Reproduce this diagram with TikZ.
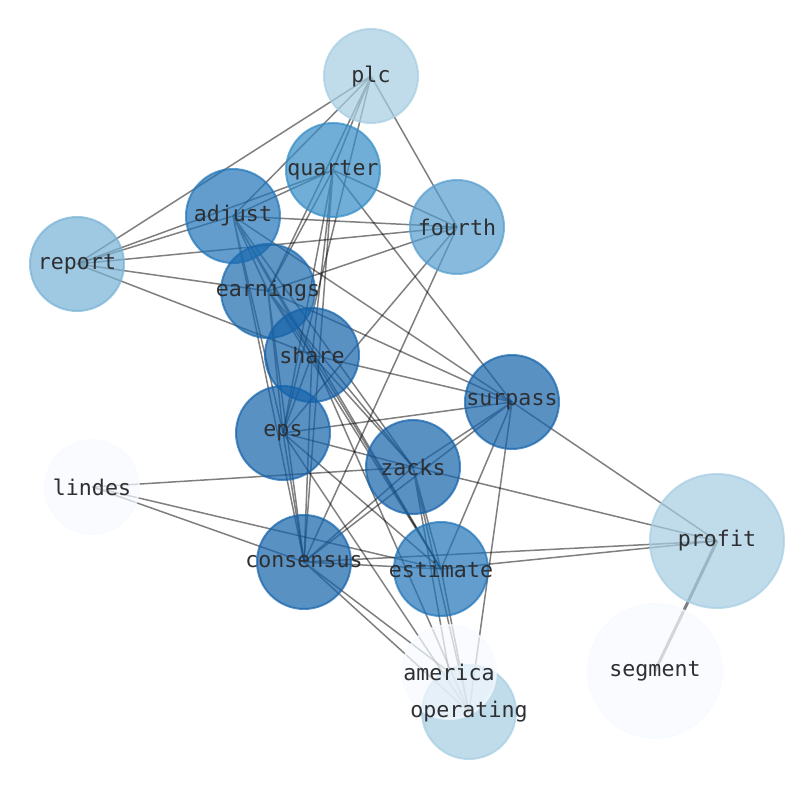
\documentclass[tikz,border=0pt]{standalone}
\usepackage{fontspec}
\usepackage{xcolor}
\usepackage{tikz}
\usetikzlibrary{positioning}
\newfontfamily\graphmono{DejaVu Sans Mono}

\definecolor{blues1}{RGB}{246,250,255}
\definecolor{blues3}{RGB}{165,205,226}
\definecolor{blues4}{RGB}{118,178,213}
\definecolor{blues5}{RGB}{84,157,205}
\definecolor{blues6}{RGB}{52,140,198}
\definecolor{blues7}{RGB}{31,116,184}
\definecolor{blues8}{RGB}{25,105,174}
\definecolor{blues9}{RGB}{20,98,170}
\definecolor{labelgray}{RGB}{45,47,50}

\pgfdeclarelayer{edgelayer}
\pgfsetlayers{edgelayer,main}

\tikzset{
    vtx/.style={circle, minimum size=47pt, inner sep=0pt, fill=#1, fill opacity=0.7,
        draw=#1, draw opacity=0.7, line width=1pt},
    bigvtx/.style={vtx=#1, minimum size=67pt},
    edge/.style={black, opacity=0.5, line width=0.75pt},
    wordlbl/.style={font=\graphmono\fontsize{10.8}{13}\selectfont, text=labelgray, inner sep=0pt}
}

\begin{document}
\begin{tikzpicture}[x=0.5pt, y=-0.5pt]
    \useasboundingbox (0,0) rectangle (794,790);

    % Knopen
    \node[vtx=blues3] (plc) at (371,76) {};
    \node[vtx=blues6] (quarter) at (333,170) {};
    \node[vtx=blues5] (fourth) at (457,227) {};
    \node[vtx=blues7] (adjust) at (233,216) {};
    \node[vtx=blues4] (report) at (77,264) {};
    \node[vtx=blues8] (earnings) at (268,291) {};
    \node[vtx=blues9] (share) at (312,355) {};
    \node[vtx=blues9] (surpass) at (512,402) {};
    \node[vtx=blues9] (eps) at (283,433) {};
    \node[vtx=blues9] (zacks) at (413,467) {};
    \node[vtx=blues1] (lindes) at (92,487) {};
    \node[vtx=blues9] (consensus) at (304,562) {};
    \node[vtx=blues7] (estimate) at (441,569) {};
    \node[bigvtx=blues3] (profit) at (717,541) {};
    \node[bigvtx=blues1] (segment) at (655,671) {};
    \node[vtx=blues3] (operating) at (469,712) {};
    \node[vtx=blues1] (america) at (449,672) {};

    % Verbindingen
    \begin{pgfonlayer}{edgelayer}
    \draw[edge] (plc.center) -- (report.center) (plc.center) -- (adjust.center)
        (plc.center) -- (quarter.center) (plc.center) -- (earnings.center)
        (plc.center) -- (eps.center) (plc.center) -- (fourth.center);
    \draw[edge] (quarter.center) -- (report.center) (quarter.center) -- (adjust.center)
        (quarter.center) -- (fourth.center) (quarter.center) -- (earnings.center)
        (quarter.center) -- (eps.center) (quarter.center) -- (share.center)
        (quarter.center) -- (surpass.center) (quarter.center) -- (consensus.center);
    \draw[edge] (report.center) -- (adjust.center) (report.center) -- (fourth.center)
        (report.center) -- (earnings.center) (report.center) -- (share.center);
    \draw[edge] (adjust.center) -- (fourth.center) (adjust.center) -- (earnings.center)
        (adjust.center) -- (share.center) (adjust.center) -- (eps.center)
        (adjust.center) -- (zacks.center) (adjust.center) -- (consensus.center)
        (adjust.center) -- (estimate.center) (adjust.center) -- (surpass.center);
    \draw[edge] (fourth.center) -- (earnings.center) (fourth.center) -- (eps.center)
        (fourth.center) -- (consensus.center);
    \draw[edge] (earnings.center) -- (share.center) (earnings.center) -- (surpass.center)
        (earnings.center) -- (zacks.center) (earnings.center) -- (estimate.center)
        (earnings.center) -- (eps.center) (earnings.center) -- (consensus.center);
    \draw[edge] (share.center) -- (surpass.center) (share.center) -- (eps.center)
        (share.center) -- (zacks.center) (share.center) -- (consensus.center)
        (share.center) -- (estimate.center) (share.center) -- (operating.center);
    \draw[edge] (surpass.center) -- (eps.center) (surpass.center) -- (zacks.center)
        (surpass.center) -- (consensus.center) (surpass.center) -- (estimate.center)
        (surpass.center) -- (operating.center) (surpass.center) -- (profit.center);
    \draw[edge] (eps.center) -- (zacks.center) (eps.center) -- (consensus.center)
        (eps.center) -- (estimate.center) (eps.center) -- (operating.center);
    \draw[edge] (zacks.center) -- (consensus.center) (zacks.center) -- (estimate.center)
        (zacks.center) -- (profit.center) (zacks.center) -- (lindes.center)
        (zacks.center) -- (operating.center) (zacks.center) -- (america.center);
    \draw[edge] (consensus.center) -- (estimate.center) (consensus.center) -- (lindes.center)
        (consensus.center) -- (operating.center) (consensus.center) -- (america.center)
        (consensus.center) -- (profit.center);
    \draw[edge] (estimate.center) -- (lindes.center) (estimate.center) -- (profit.center)
        (estimate.center) -- (operating.center);
    \draw[edge, line width=1.5pt] (profit.center) -- (segment.center);
    \end{pgfonlayer}

    % Woorden
    \node[wordlbl] (plc-t) at (plc) {plc};
    \node[wordlbl] (quarter-t) at (quarter) {quarter};
    \node[wordlbl] (fourth-t) at (fourth) {fourth};
    \node[wordlbl] (adjust-t) at (adjust) {adjust};
    \node[wordlbl] (report-t) at (report) {report};
    \node[wordlbl] (earnings-t) at (earnings) {earnings};
    \node[wordlbl] (share-t) at (share) {share};
    \node[wordlbl] (surpass-t) at (surpass) {surpass};
    \node[wordlbl] (eps-t) at (eps) {eps};
    \node[wordlbl] (zacks-t) at (zacks) {zacks};
    \node[wordlbl] (lindes-t) at (lindes) {lindes};
    \node[wordlbl] (consensus-t) at (consensus) {consensus};
    \node[wordlbl] (estimate-t) at (estimate) {estimate};
    \node[wordlbl] (profit-t) at (profit) {profit};
    \node[wordlbl] (segment-t) at (segment) {segment};
    \node[wordlbl] (operating-t) at (operating) {operating};
    \node[wordlbl] (america-t) at (america) {america};
\end{tikzpicture}
\end{document}
